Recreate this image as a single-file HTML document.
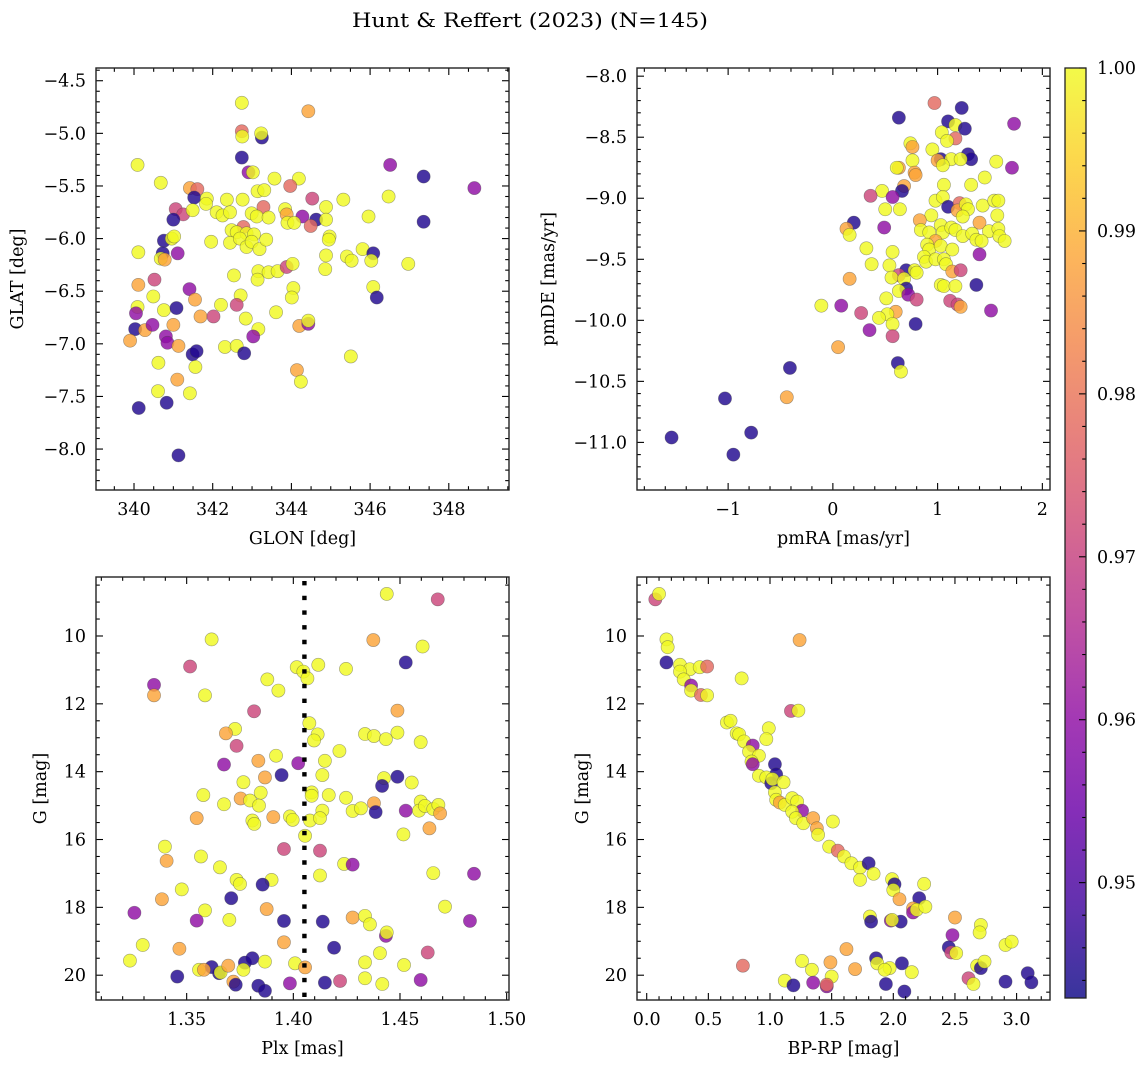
<!DOCTYPE html>
<html><head><meta charset="utf-8"><title>Hunt & Reffert (2023)</title>
<style>
html,body{margin:0;padding:0;background:#fff;}
svg{display:block;font-family:"DejaVu Serif","Liberation Serif",serif;}
</style></head>
<body>
<svg id="fig" width="1148" height="1067" viewBox="0 0 1148 1067" xmlns="http://www.w3.org/2000/svg">
<rect width="1148" height="1067" fill="#fff"/>
<text x="530" y="27" font-size="20" text-anchor="middle" textLength="356" lengthAdjust="spacingAndGlyphs">Hunt &amp; Reffert (2023) (N=145)</text>
</svg>
<script>
// ---------- Panel 1: GLON / GLAT ----------
const glon = [342.74,344.43,342.74,342.75,343.25,343.23,342.74,340.09,346.51,347.36,348.65,342.91,343.02,340.68,343.57,344.19,343.97,341.42,341.61,341.53,343.14,343.31,341.85,342.36,342.76,344.53,345.32,346.47,341.06,341.25,341.49,341.83,342.10,342.25,342.44,343.29,342.99,343.12,343.42,343.84,343.88,344.28,344.63,344.88,344.88,345.96,347.36,341.00,343.90,344.07,344.49,342.78,342.48,342.61,342.86,343.05,340.76,340.96,341.02,341.96,342.44,342.69,342.86,342.99,343.19,343.36,344.97,344.95,340.11,340.73,341.11,340.68,340.78,344.88,345.41,345.53,345.81,346.08,346.03,346.97,342.54,343.16,343.14,343.42,343.65,343.88,344.03,344.86,340.52,340.11,341.41,344.05,344.01,346.08,346.17,340.49,341.55,342.71,342.61,342.21,340.09,340.05,340.76,341.08,341.69,342.02,342.84,343.61,340.03,340.28,340.47,341.00,343.16,343.03,344.20,344.43,344.43,339.90,340.81,340.85,341.13,341.49,341.59,342.31,342.61,342.80,345.51,340.62,341.56,344.14,344.24,341.10,340.61,341.42,340.83,340.12,341.13];
const glat = [-4.71,-4.79,-4.98,-5.03,-5.04,-5.00,-5.23,-5.30,-5.30,-5.41,-5.52,-5.37,-5.37,-5.47,-5.43,-5.43,-5.50,-5.52,-5.53,-5.61,-5.55,-5.54,-5.62,-5.63,-5.63,-5.62,-5.63,-5.60,-5.72,-5.77,-5.73,-5.67,-5.75,-5.78,-5.75,-5.70,-5.76,-5.79,-5.80,-5.72,-5.77,-5.79,-5.82,-5.70,-5.82,-5.79,-5.84,-5.82,-5.85,-5.85,-5.88,-5.89,-5.92,-5.94,-5.95,-5.96,-6.02,-6.00,-5.98,-6.03,-6.04,-6.00,-6.08,-6.03,-6.10,-6.01,-5.98,-6.01,-6.13,-6.14,-6.14,-6.19,-6.20,-6.16,-6.17,-6.21,-6.10,-6.14,-6.21,-6.24,-6.35,-6.31,-6.39,-6.32,-6.31,-6.27,-6.24,-6.29,-6.39,-6.44,-6.48,-6.47,-6.56,-6.46,-6.56,-6.55,-6.58,-6.54,-6.63,-6.63,-6.65,-6.71,-6.68,-6.66,-6.74,-6.74,-6.76,-6.70,-6.86,-6.87,-6.82,-6.82,-6.86,-6.93,-6.83,-6.81,-6.78,-6.97,-6.93,-6.99,-7.02,-7.10,-7.07,-7.03,-7.02,-7.09,-7.12,-7.18,-7.22,-7.25,-7.36,-7.34,-7.45,-7.47,-7.56,-7.61,-8.06];
const prob1 = [1,0.988,0.978,1,0.945,1,0.945,1,0.96,0.945,0.96,0.96,1,1,1,1,0.978,0.988,0.978,0.945,1,1,1,1,1,0.971,1,1,0.971,0.971,1,1,1,1,1,0.978,1,1,1,1,0.988,0.96,0.945,1,1,1,0.945,0.945,1,1,0.978,0.978,1,1,1,1,0.945,1,1,1,1,1,1,1,1,1,1,1,1,0.945,0.96,1,0.988,1,1,1,1,0.945,1,1,1,1,1,1,1,0.971,1,1,0.971,0.988,0.96,1,1,1,0.945,1,0.988,1,0.971,1,1,0.96,1,0.945,0.988,0.971,1,1,0.945,0.988,0.96,0.988,1,0.96,0.988,0.96,1,0.988,0.96,0.96,0.988,0.945,0.945,1,1,0.945,1,1,1,0.988,1,0.988,1,1,0.945,0.945,0.945];
const p1XTicks = [340,342,344,346,348];
const p1YTicks = [-4.5,-5.0,-5.5,-6.0,-6.5,-7.0,-7.5,-8.0];

// ---------- Panel 2: pmRA / pmDE ----------
const pmra = [0.97,1.23,0.63,1.10,1.73,1.17,1.26,1.04,1.17,1.09,0.74,0.76,0.95,1.29,1.32,1.03,1.00,1.13,1.22,0.76,1.05,0.63,0.61,1.56,1.71,0.78,0.79,1.45,1.32,1.06,0.68,0.66,0.47,0.36,0.57,0.98,1.05,1.10,1.21,1.19,1.27,1.29,1.43,1.54,1.58,1.57,0.50,0.64,0.94,1.24,0.83,1.40,0.20,0.13,0.16,0.49,0.84,0.92,1.03,1.05,1.13,1.17,1.24,1.33,1.49,1.58,1.59,1.37,1.42,1.64,0.98,0.90,0.92,1.03,1.14,0.87,0.89,0.98,1.06,1.08,0.32,0.57,1.40,0.37,0.54,0.70,0.78,0.80,0.63,0.56,0.68,1.14,1.22,0.16,1.03,1.06,1.17,1.37,0.70,0.63,0.72,0.51,0.80,1.12,1.19,1.22,-0.11,0.08,1.51,0.27,0.60,0.52,0.44,0.57,0.79,0.35,0.57,0.05,-0.41,0.62,0.65,-1.03,-0.44,-0.78,-1.54,-0.95];
const pmde = [-8.22,-8.26,-8.34,-8.37,-8.39,-8.40,-8.43,-8.46,-8.51,-8.53,-8.55,-8.58,-8.60,-8.64,-8.68,-8.68,-8.69,-8.68,-8.68,-8.69,-8.73,-8.75,-8.75,-8.70,-8.75,-8.79,-8.81,-8.83,-8.89,-8.89,-8.90,-8.94,-8.94,-8.98,-8.99,-9.02,-8.99,-9.07,-9.04,-9.10,-9.05,-9.09,-9.06,-9.02,-9.02,-9.14,-9.09,-9.09,-9.14,-9.15,-9.18,-9.20,-9.20,-9.25,-9.30,-9.24,-9.26,-9.28,-9.22,-9.28,-9.24,-9.26,-9.31,-9.29,-9.27,-9.25,-9.31,-9.34,-9.35,-9.35,-9.35,-9.38,-9.42,-9.39,-9.42,-9.48,-9.52,-9.50,-9.50,-9.54,-9.41,-9.44,-9.46,-9.54,-9.55,-9.59,-9.59,-9.61,-9.63,-9.65,-9.66,-9.60,-9.59,-9.66,-9.71,-9.72,-9.72,-9.71,-9.74,-9.76,-9.79,-9.82,-9.83,-9.84,-9.87,-9.89,-9.88,-9.88,-9.92,-9.94,-9.93,-9.95,-9.98,-10.03,-10.03,-10.08,-10.13,-10.22,-10.39,-10.35,-10.42,-10.64,-10.63,-10.92,-10.96,-11.10];
const prob2 = [0.978,0.945,0.945,0.945,0.96,1,0.945,1,0.978,1,1,0.988,1,0.945,0.945,0.945,0.988,1,1,1,1,0.988,1,1,0.96,0.988,0.988,1,1,1,0.988,0.945,1,0.971,0.96,1,1,0.945,0.978,0.988,1,1,1,1,1,1,1,1,1,1,0.988,0.988,0.945,0.988,1,0.96,1,1,1,1,1,1,1,1,1,1,1,1,1,1,0.988,1,1,1,1,1,1,1,1,1,1,1,0.96,1,1,0.945,1,1,0.971,1,1,0.988,0.971,0.988,1,1,1,0.945,0.945,1,0.96,1,0.971,0.971,0.971,0.988,1,0.96,0.96,0.971,0.988,1,1,1,0.945,0.96,0.971,0.988,0.945,0.945,1,0.945,0.988,0.945,0.945,0.945];
const p2XTicks = [-1,0,1,2];
const p2YTicks = [-8.0,-8.5,-9.0,-9.5,-10.0,-10.5,-11.0];

// ---------- Panel 3: Plx / G ----------
const plx = [1.4438,1.4677,1.3617,1.4375,1.4606,1.4527,1.3516,1.4016,1.4117,1.4247,1.4047,1.4066,1.3878,1.3347,1.3347,1.3586,1.3930,1.3816,1.4488,1.4075,1.3727,1.3684,1.4114,1.4097,1.4336,1.4378,1.4434,1.4488,1.4597,1.3734,1.4216,1.3919,1.3675,1.3836,1.4023,1.4148,1.3945,1.3867,1.4136,1.4488,1.3766,1.4425,1.4416,1.4555,1.3578,1.3753,1.3797,1.3847,1.3839,1.4086,1.4086,1.4166,1.4247,1.3675,1.4378,1.4386,1.4278,1.4317,1.4136,1.4527,1.4597,1.4589,1.4617,1.4656,1.4680,1.4688,1.3547,1.3906,1.3984,1.3997,1.4078,1.4125,1.3808,1.3817,1.4638,1.4055,1.4516,1.3398,1.3956,1.4125,1.3406,1.3567,1.3656,1.4238,1.4278,1.4125,1.4656,1.4847,1.3734,1.3750,1.3898,1.3856,1.3477,1.3709,1.3384,1.3586,1.3875,1.4711,1.3255,1.3547,1.3700,1.3956,1.4138,1.4278,1.4336,1.4359,1.4434,1.4438,1.4828,1.3294,1.3466,1.3956,1.4191,1.4406,1.4630,1.3234,1.3617,1.3558,1.3581,1.3652,1.3659,1.3695,1.3773,1.3808,1.3766,1.3867,1.4008,1.4055,1.4336,1.4519,1.3456,1.3719,1.3730,1.3836,1.3867,1.3984,1.4148,1.4219,1.4336,1.4417,1.4597,1.3555];
const gmag3 = [8.76,8.92,10.10,10.12,10.31,10.78,10.90,10.92,10.85,10.97,11.05,11.25,11.28,11.44,11.75,11.75,11.61,12.22,12.20,12.57,12.74,12.87,12.90,13.08,12.89,12.95,13.04,12.85,13.13,13.24,13.39,13.53,13.79,13.68,13.75,13.68,14.10,14.17,14.10,14.15,14.31,14.19,14.42,14.32,14.69,14.79,14.85,14.62,15.00,14.61,14.71,14.69,14.77,14.96,14.93,15.19,15.16,15.08,15.15,15.15,14.88,15.15,15.01,15.10,14.98,15.23,15.37,15.34,15.32,15.42,15.44,15.37,15.44,15.54,15.67,15.89,15.85,16.21,16.28,16.33,16.63,16.50,16.82,16.72,16.74,17.06,16.99,17.01,17.19,17.31,17.19,17.33,17.47,17.73,17.76,18.09,18.05,17.98,18.16,18.39,18.37,18.40,18.42,18.30,18.25,18.50,18.84,18.74,18.40,19.11,19.22,19.03,19.19,19.35,19.33,19.57,19.76,19.84,19.84,19.94,19.92,19.72,19.63,19.50,19.84,19.60,19.65,19.77,19.62,19.70,20.04,20.19,20.28,20.31,20.46,20.24,20.22,20.17,20.09,20.26,20.14,20.36];
const prob3 = [1,0.971,1,0.988,1,0.945,0.971,1,1,1,1,1,1,0.96,0.988,1,1,0.971,0.988,1,1,0.988,1,1,1,1,1,1,1,0.971,1,1,0.96,0.988,0.96,1,0.945,0.988,1,0.945,1,1,0.945,1,1,0.988,1,1,1,1,1,1,1,1,0.988,0.945,1,1,1,0.96,1,1,1,1,1,0.988,0.988,0.988,1,1,1,1,1,1,0.988,1,1,1,0.971,0.971,0.988,1,1,1,0.96,1,1,0.96,1,1,1,0.945,1,0.945,0.988,1,0.988,1,0.96,0.96,1,0.945,0.945,0.988,1,1,0.96,1,0.96,1,0.988,0.988,0.945,1,0.971,1,0.945,1,0.988,0.945,1,0.988,0.945,0.945,1,1,1,0.988,1,1,0.945,0.988,0.945,0.945,0.945,0.96,0.945,0.971,1,1,0.96];
const p3XTicks = [1.35,1.40,1.45,1.50];
const p3YTicks = [10,12,14,16,18,20];
const plxMean = [1.4052];

// ---------- Panel 4: BP-RP / G ----------
const bprp = [0.07,0.10,0.16,0.17,0.16,0.27,0.35,0.43,0.49,0.27,0.30,0.36,0.36,0.44,0.49,0.77,1.24,1.17,1.23,0.65,0.68,0.73,0.75,0.79,0.86,0.83,0.91,0.99,0.97,0.85,0.86,1.04,1.05,0.91,0.97,1.01,1.02,1.11,1.04,1.05,1.08,1.12,1.18,1.22,1.26,1.18,1.21,1.27,1.35,1.38,1.39,1.51,1.48,1.55,1.60,1.66,1.73,1.80,1.84,1.73,1.99,2.01,2.00,2.05,2.25,2.21,2.16,2.16,2.19,2.26,1.81,1.82,1.98,2.06,1.99,2.50,2.48,2.45,2.47,2.51,2.71,2.70,2.91,2.96,1.62,1.26,1.49,1.69,1.34,1.86,1.87,2.07,1.97,1.93,2.15,1.50,1.12,1.19,1.35,1.46,1.46,1.94,2.09,2.61,2.65,2.68,2.71,2.74,2.91,3.09,3.12,0.78];
const gmag4 = [8.92,8.76,10.10,10.33,10.78,10.85,10.98,10.92,10.90,11.05,11.28,11.46,11.61,11.74,11.75,11.25,10.12,12.21,12.20,12.55,12.50,12.87,12.90,13.11,13.23,13.41,13.53,12.72,13.04,13.70,13.78,13.78,14.08,14.12,14.17,14.34,14.22,14.31,14.61,14.83,14.91,14.98,14.78,14.88,15.15,15.18,15.37,15.52,15.37,15.67,15.86,15.47,16.21,16.33,16.50,16.70,16.83,16.70,17.01,17.19,17.17,17.32,17.49,17.76,17.31,17.73,18.03,18.15,18.07,17.98,18.27,18.42,18.39,18.42,18.37,18.30,18.82,19.18,19.33,19.35,18.52,18.74,19.11,19.01,19.23,19.58,19.62,19.82,19.84,19.50,19.65,19.65,19.79,19.84,19.91,20.04,20.16,20.30,20.22,20.33,20.28,20.26,20.48,20.09,20.26,19.72,19.79,19.60,20.19,19.94,20.21,19.72];
const prob4 = [0.971,1,1,1,0.945,1,1,1,0.978,1,1,0.96,1,0.978,1,1,0.988,0.971,1,1,1,1,1,1,0.96,1,1,1,1,1,0.96,0.945,0.945,1,1,0.945,1,1,1,1,0.988,1,1,1,0.96,1,1,1,0.988,0.988,1,1,1,0.978,1,1,1,0.945,1,1,1,0.945,1,0.988,1,0.945,0.988,0.96,1,1,1,0.945,0.96,0.945,1,0.988,0.96,0.945,0.971,1,1,1,1,1,0.988,1,0.988,0.988,1,0.945,1,0.945,1,1,1,1,1,0.945,0.96,0.96,0.978,0.945,0.945,0.971,1,1,0.945,1,0.945,0.945,0.945,0.978];
const p4XTicks = [0.0,0.5,1.0,1.5,2.0,2.5,3.0];
const p4YTicks = [10,12,14,16,18,20];

// ---------- Colorbar ----------
const cbTicks = [0.95,0.96,0.97,0.98,0.99,1.00];
const cbMin = 0.94292, cbMax = 1.0;

const NS = 'http://www.w3.org/2000/svg';
const svg = document.getElementById('fig');
function mk(tag, attrs, parent){
  const e = document.createElementNS(NS, tag);
  for (const k in attrs) e.setAttribute(k, attrs[k]);
  (parent||svg).appendChild(e);
  return e;
}
const plasma = [[13,8,135],[65,4,157],[106,0,168],[143,13,164],[177,42,144],[204,71,120],[225,100,98],[242,132,75],[252,166,54],[252,206,37],[240,249,33]];
function cmap(v){
  let t = (v - cbMin)/(cbMax - cbMin);
  t = Math.max(0, Math.min(1, t));
  const f = t*10, i = Math.min(9, Math.floor(f)), r = f - i;
  const a = plasma[i], b = plasma[i+1];
  return 'rgb(' + [0,1,2].map(k => Math.round(a[k] + (b[k]-a[k])*r)).join(',') + ')';
}
function fmt(v, d){ const s = Math.abs(v).toFixed(d); return (v < 0 ? '\u2212' : '') + s; }

function panel(cfg){
  const g = mk('g', {});
  
  
  const sx = v => cfg.L + (v - cfg.x0)/(cfg.x1 - cfg.x0)*(cfg.R - cfg.L);
  const sy = v => cfg.T + (v - cfg.yT)/(cfg.yB - cfg.yT)*(cfg.B - cfg.T);
  const clip = mk('clipPath', {id: cfg.name + '-clip'}, g);
  mk('rect', {x: cfg.L, y: cfg.T, width: cfg.R - cfg.L, height: cfg.B - cfg.T}, clip);
  const pts = mk('g', {'clip-path': 'url(#' + cfg.name + '-clip)'}, g);
  
  
  const n = Math.min(cfg.xs.length, cfg.ys.length, cfg.ps.length);
  for (let i = 0; i < n; i++){
    const c = mk('circle', {cx: sx(cfg.xs[i]).toFixed(2), cy: sy(cfg.ys[i]).toFixed(2), r: 6.6,
      fill: cmap(cfg.ps[i]), 'fill-opacity': 0.82, stroke: 'rgba(70,70,70,0.5)', 'stroke-width': 0.6}, pts);
    
    
  }
  if (cfg.vline){
    const vl = mk('line', {x1: sx(cfg.vline[0]), x2: sx(cfg.vline[0]), y1: cfg.T + 4, y2: cfg.B,
      stroke: '#000', 'stroke-width': 4.4, 'stroke-dasharray': '4.4 10.3'}, g);
    
    
  }
  // ticks
  const tk = mk('g', {stroke: '#000', 'stroke-width': 1.1}, g);
  
  
  const xmin = Math.min(cfg.x0, cfg.x1), xmax = Math.max(cfg.x0, cfg.x1);
  for (let k = Math.ceil(xmin/cfg.xm - 1e-9); k*cfg.xm <= xmax + 1e-9; k++){
    const x = sx(k*cfg.xm);
    const major = cfg.xt.some(t => Math.abs(t - k*cfg.xm) < cfg.xm*0.01);
    const l = major ? 7 : 3.8;
    mk('line', {x1: x, x2: x, y1: cfg.B, y2: cfg.B - l}, tk);
    mk('line', {x1: x, x2: x, y1: cfg.T, y2: cfg.T + l}, tk);
  }
  const ymin = Math.min(cfg.yT, cfg.yB), ymax = Math.max(cfg.yT, cfg.yB);
  for (let k = Math.ceil(ymin/cfg.ym - 1e-9); k*cfg.ym <= ymax + 1e-9; k++){
    const y = sy(k*cfg.ym);
    const major = cfg.yt.some(t => Math.abs(t - k*cfg.ym) < cfg.ym*0.01);
    const l = major ? 7 : 3.8;
    mk('line', {x1: cfg.L, x2: cfg.L + l, y1: y, y2: y}, tk);
    mk('line', {x1: cfg.R, x2: cfg.R - l, y1: y, y2: y}, tk);
  }
  const fr = mk('rect', {x: cfg.L, y: cfg.T, width: cfg.R - cfg.L, height: cfg.B - cfg.T, fill: 'none', stroke: '#222', 'stroke-width': 1.4}, g);
  
  
  // tick labels
  cfg.xt.forEach(t => {
    const e = mk('text', {x: sx(t), y: cfg.B + 25, 'font-size': 17.5, 'text-anchor': 'middle'}, g);
    
    
    e.textContent = fmt(t, cfg.xd);
  });
  cfg.yt.forEach(t => {
    const e = mk('text', {x: cfg.L - 10, y: sy(t) + 6, 'font-size': 17.5, 'text-anchor': 'end'}, g);
    
    
    e.textContent = fmt(t, cfg.yd);
  });
  const xl = mk('text', {x: (cfg.L + cfg.R)/2, y: cfg.B + 54, 'font-size': 17.5, 'text-anchor': 'middle'}, g);
  
  
  xl.textContent = cfg.xlab;
  const yc = (cfg.T + cfg.B)/2;
  const yl = mk('text', {x: cfg.ylx, y: yc, 'font-size': 17.5, 'text-anchor': 'middle', 'dominant-baseline': 'central', transform: 'rotate(-90 ' + cfg.ylx + ' ' + yc + ')'}, g);
  
  
  yl.textContent = cfg.ylab;
}

panel({name: 'glon-glat-panel', L: 96, R: 509, T: 68, B: 490, x0: 339.034, x1: 349.53, yT: -4.379, yB: -8.389,
  xs: glon, ys: glat, ps: prob1, xt: p1XTicks, yt: p1YTicks, xm: 0.5, ym: 0.1, xd: 0, yd: 1,
  xlab: 'GLON [deg]', ylab: 'GLAT [deg]', ylx: 18});
panel({name: 'pm-panel', L: 637, R: 1050, T: 68, B: 490, x0: -1.870, x1: 2.073, yT: -7.933, yB: -11.390,
  xs: pmra, ys: pmde, ps: prob2, xt: p2XTicks, yt: p2YTicks, xm: 0.2, ym: 0.1, xd: 0, yd: 1,
  xlab: 'pmRA [mas/yr]', ylab: 'pmDE [mas/yr]', ylx: 549});
panel({name: 'plx-g-panel', L: 96, R: 509, T: 577, B: 1000, x0: 1.3075, x1: 1.5011, yT: 8.261, yB: 20.731,
  xs: plx, ys: gmag3, ps: prob3, xt: p3XTicks, yt: p3YTicks, xm: 0.01, ym: 0.5, xd: 2, yd: 0,
  xlab: 'Plx [mas]', ylab: 'G [mag]', ylx: 41, vline: plxMean});
panel({name: 'cmd-panel', L: 637, R: 1050, T: 577, B: 1000, x0: -0.0787, x1: 3.2709, yT: 8.261, yB: 20.731,
  xs: bprp, ys: gmag4, ps: prob4, xt: p4XTicks, yt: p4YTicks, xm: 0.1, ym: 0.5, xd: 1, yd: 0,
  xlab: 'BP-RP [mag]', ylab: 'G [mag]', ylx: 583});

// colorbar
(function(){
  const L = 1065, R = 1086, T = 68, B = 998;
  const g = mk('g', {});
  
  
  const defs = mk('defs', {}, g);
  const grad = mk('linearGradient', {id: 'cbgrad', x1: 0, y1: 1, x2: 0, y2: 0}, defs);
  for (let i = 0; i <= 20; i++){
    const v = cbMin + (cbMax - cbMin)*i/20;
    mk('stop', {offset: (i/20).toFixed(3), 'stop-color': cmap(v)}, grad);
  }
  const bar = mk('rect', {x: L, y: T, width: R - L, height: B - T, fill: 'url(#cbgrad)', 'fill-opacity': 0.82}, g);
  
  
  const sy = v => B - (v - cbMin)/(cbMax - cbMin)*(B - T);
  for (let k = Math.ceil(cbMin/0.002 - 1e-9); k*0.002 <= cbMax + 1e-9; k++){
    const v = k*0.002, y = sy(v);
    const major = cbTicks.some(t => Math.abs(t - v) < 1e-6);
    mk('line', {x1: R, x2: R - (major ? 7 : 3.8), y1: y, y2: y, stroke: '#000', 'stroke-width': 1.1}, g);
  }
  mk('rect', {x: L, y: T, width: R - L, height: B - T, fill: 'none', stroke: '#222', 'stroke-width': 1.3}, g);
  cbTicks.forEach(t => {
    const e = mk('text', {x: R + 11, y: sy(t) + 6, 'font-size': 17.5}, g);
    
    
    e.textContent = t.toFixed(2);
  });
})();
</script>
</body></html>
